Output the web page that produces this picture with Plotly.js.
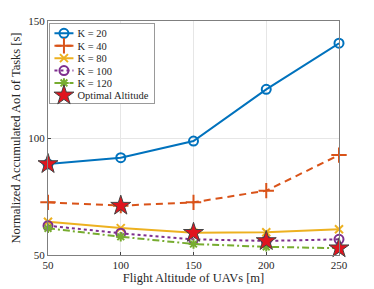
<!DOCTYPE html>
<html><head><meta charset="utf-8">
<script src="https://cdn.plot.ly/plotly-3.0.1.min.js"></script>
<style>html,body{margin:0;padding:0;background:#fff}#c{width:374px;height:289px}</style>
</head><body><div id="c"></div>
<script>
const altitudes = [50, 100, 150, 200, 250];
const k20 = [88.9, 91.6, 98.7, 120.8, 140.5];
const k40 = [72.5, 71.1, 72.5, 77.5, 92.7];
const k80 = [64.2, 61.5, 59.5, 59.7, 61.0];
const k100 = [62.5, 59.3, 56.7, 56.0, 56.7];
const k120 = [61.4, 57.8, 54.7, 53.5, 52.9];
const optimalAlt = [50, 100, 150, 200, 250];
const optimalVal = [88.9, 71.1, 59.5, 56.0, 52.9];
const names = ["K = 20", "K = 40", "K = 80", "K = 100", "K = 120", "Optimal Altitude"];

const series = [
  {y: k20, color: '#0072BD', dash: 'solid', sym: 'circle-open', size: 9},
  {y: k40, color: '#D95319', dash: '7px,5px', sym: 'cross-thin-open', size: 11},
  {y: k80, color: '#EDB120', dash: 'solid', sym: 'x-thin-open', size: 8},
  {y: k100, color: '#7E2F8E', dash: 'dot', sym: 'circle-open', size: 9},
  {y: k120, color: '#77AC30', dash: '7px,3px,2px,3px', sym: 'asterisk-open', size: 8}
];
const traces = series.map((s, i) => ({
  x: altitudes, y: s.y, name: names[i], type: 'scatter', mode: 'lines+markers', cliponaxis: false,
  line: {color: s.color, width: 2, dash: s.dash},
  marker: {symbol: s.sym, size: s.size, color: s.color, line: {color: s.color, width: 2}}
}));
traces.push({
  x: optimalAlt, y: optimalVal, name: names[5], type: 'scatter', mode: 'markers', cliponaxis: false,
  marker: {symbol: 'star', size: 15, color: '#E0141E', line: {color: '#444', width: 1}}
});

const font = {family: 'Liberation Serif, Times New Roman, serif', color: '#262626'};
Plotly.newPlot('c', traces, {
  width: 374, height: 289,
  margin: {l: 48, r: 35, t: 21, b: 34},
  paper_bgcolor: '#fff', plot_bgcolor: '#fff',
  font: Object.assign({size: 11}, font),
  showlegend: true,
  legend: {x: 0.005, y: 0.99, xanchor: 'left', yanchor: 'top', bgcolor: '#fff',
    bordercolor: '#999', borderwidth: 1, font: Object.assign({size: 10.5}, font),
    itemwidth: 30, tracegroupgap: 0},
  xaxis: {range: [50, 250], tickvals: altitudes, ticks: 'inside', ticklen: 3,
    showgrid: true, gridcolor: '#e6e6e6', zeroline: false, showline: true, linecolor: '#7f7f7f',
    mirror: true, tickfont: Object.assign({size: 11}, font),
    title: {text: 'Flight Altitude of UAVs [m]', font: Object.assign({size: 12.5}, font), standoff: 2}},
  yaxis: {range: [50, 150], tickvals: [50, 100, 150], ticks: 'inside', ticklen: 3,
    showgrid: true, gridcolor: '#e6e6e6', zeroline: false, showline: true, linecolor: '#7f7f7f',
    mirror: true, tickfont: Object.assign({size: 11}, font),
    title: {text: 'Normalized Accumulated AoI of Tasks [s]', font: Object.assign({size: 12.5}, font), standoff: 4}},
}, {displayModeBar: false, staticPlot: true}).then(gd => {
  // tighten legend rows and sample width to mimic a compact legend box
  const lg = gd.querySelector('g.legend');
  if (!lg) return;
  const items = Array.from(lg.querySelectorAll('g.traces'));
  const parse = el => {
    const m = /translate\(\s*([-\d.e]+)[ ,]+([-\d.e]+)\s*\)/.exec(el.getAttribute('transform') || '');
    return m ? [parseFloat(m[1]), parseFloat(m[2])] : [0, 0];
  };
  if (items.length < 2) return;
  const sp = 12.4, top = 10;
  const dx = 13;
  items.forEach((it, i) => {
    const p = parse(it);
    it.setAttribute('transform', 'translate(' + p[0] + ',' + (top + i * sp) + ')');
    const t = it.querySelector('text.legendtext');
    if (t) t.setAttribute('x', parseFloat(t.getAttribute('x')) - dx);
    it.querySelectorAll('g.legendlines path').forEach(pa => pa.setAttribute('d', 'M4,0h19'));
    it.querySelectorAll('g.legendpoints path.scatterpts').forEach(pa => pa.setAttribute('transform', 'translate(13.5,0)'));
  });
  const bg = lg.querySelector('rect.bg');
  if (bg) {
    bg.setAttribute('height', top + (items.length - 1) * sp + 7.5);
    bg.setAttribute('width', parseFloat(bg.getAttribute('width')) - dx);
  }
});
</script></body></html>
